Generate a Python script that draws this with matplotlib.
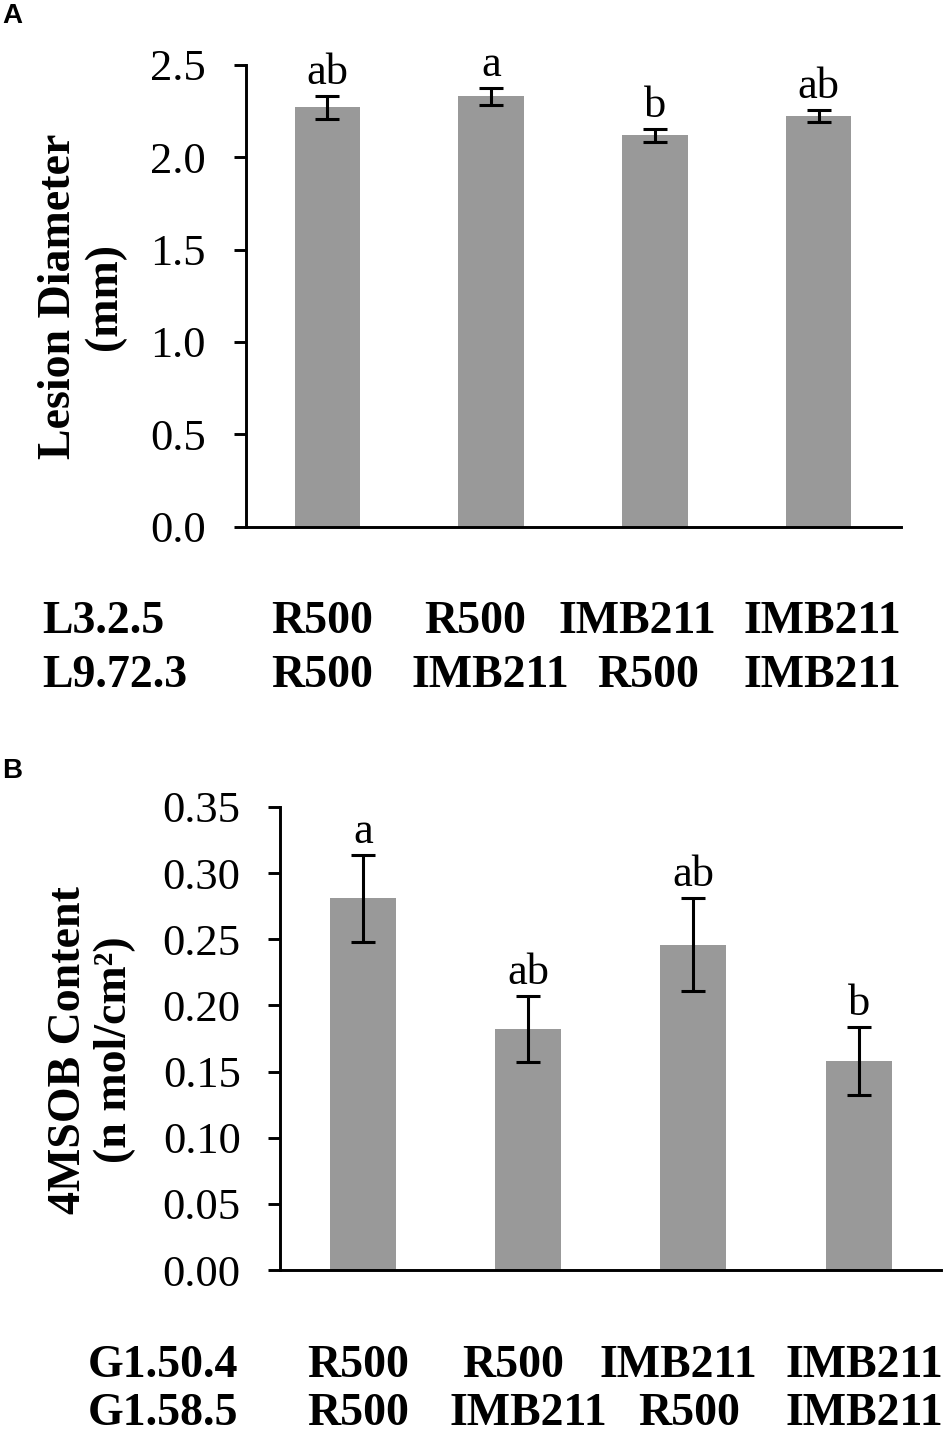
import matplotlib
matplotlib.use('Agg')
import matplotlib.pyplot as plt
import matplotlib.transforms as mtransforms
from matplotlib.ticker import FormatStrFormatter

plt.rcParams['font.family'] = ['Liberation Serif', 'DejaVu Serif']

# panel A: lesion diameter
lesion_mean = [2.27, 2.33, 2.12, 2.225]
lesion_err = [0.06, 0.045, 0.035, 0.032]
lesion_letters = ['ab', 'a', 'b', 'ab']
lesion_loci = ['L3.2.5', 'L9.72.3']
lesion_row1 = ['R500', 'R500', 'IMB211', 'IMB211']
lesion_row2 = ['R500', 'IMB211', 'R500', 'IMB211']

# panel B: 4MSOB content
msob_mean = [0.281, 0.182, 0.246, 0.158]
msob_err = [0.033, 0.025, 0.035, 0.026]
msob_letters = ['a', 'ab', 'ab', 'b']
msob_loci = ['G1.50.4', 'G1.58.5']
msob_row1 = ['R500', 'R500', 'IMB211', 'IMB211']
msob_row2 = ['R500', 'IMB211', 'R500', 'IMB211']

W, H = 951, 1436
fig = plt.figure(figsize=(W / 100, H / 100), dpi=100)


def draw_panel(ax, means, errs, letters, ymax, step, fmt):
    x = list(range(len(means)))
    ax.bar(x, means, width=0.4, color='#999999', zorder=1)
    ax.errorbar(x, means, yerr=errs, fmt='none', ecolor='black',
                elinewidth=2.2, capsize=8.3, capthick=2.2, zorder=2)
    for xi, m, e, lab in zip(x, means, errs, letters):
        ax.annotate(lab, (xi, m + e), xytext=(0, 8.6), textcoords='offset points',
                    ha='center', va='baseline', fontsize=32)
    ax.set_xlim(-0.5, 3.5)
    ax.set_ylim(0, ymax)
    n = int(round(ymax / step))
    ax.set_yticks([i * step for i in range(n + 1)])
    ax.yaxis.set_major_formatter(FormatStrFormatter(fmt))
    for s in ['top', 'right']:
        ax.spines[s].set_visible(False)
    for s in ['left', 'bottom']:
        ax.spines[s].set_linewidth(2.1)
    ax.tick_params(axis='y', direction='out', length=8.5, width=2.1, pad=20, labelsize=32)
    ax.tick_params(axis='x', bottom=False, labelbottom=False)


def draw_table(ax, loci, row1, row2, xleft, y1, y2, nudge1, nudge2):
    # genotype table under the bars; nudges are small pixel shifts of each label
    for loc, yy in zip(loci, [y1, y2]):
        fig.text(xleft / W, 1 - yy / H, loc, fontsize=33, fontweight='bold', ha='left', va='baseline')
    for row, yy, nudge in [(row1, y1, nudge1), (row2, y2, nudge2)]:
        for i, (lab, dx) in enumerate(zip(row, nudge)):
            trans = mtransforms.offset_copy(
                mtransforms.blended_transform_factory(ax.transData, fig.transFigure),
                fig=fig, x=dx / 100, y=0, units='inches')
            ax.text(i, 1 - yy / H, lab, transform=trans, fontsize=33, fontweight='bold',
                    ha='center', va='baseline')


axA = fig.add_axes([245.6 / W, 1 - 526.5 / H, 655 / W, 461.5 / H])
draw_panel(axA, lesion_mean, lesion_err, lesion_letters, 2.5, 0.5, '%.1f')
draw_table(axA, lesion_loci, lesion_row1, lesion_row2, 42, 633, 687,
           [-5, -16, -18, 4], [-5, -1, -7, 4])
fig.text(82 / W, 1 - 296 / H, 'Lesion Diameter\n(mm)', rotation=90, ha='center', va='center',
         fontsize=33, fontweight='bold', linespacing=1.1)

axB = fig.add_axes([280.3 / W, 1 - 1270 / H, 661 / W, 463 / H])
draw_panel(axB, msob_mean, msob_err, msob_letters, 0.35, 0.05, '%.2f')
draw_table(axB, msob_loci, msob_row1, msob_row2, 88, 1377, 1425,
           [-5, -15, -15, 6], [-5, 0, -4, 6])
fig.text(92 / W, 1 - 1050 / H, '4MSOB Content\n(n mol/cm²)', rotation=90, ha='center', va='center',
         fontsize=33, fontweight='bold', linespacing=1.1)

fig.text(2 / W, 1 - 3 / H, 'A', family='Liberation Sans', fontweight='bold', fontsize=20, va='top', ha='left')
fig.text(2 / W, 1 - 758 / H, 'B', family='Liberation Sans', fontweight='bold', fontsize=20, va='top', ha='left')

fig.savefig('out.png', dpi=100)
